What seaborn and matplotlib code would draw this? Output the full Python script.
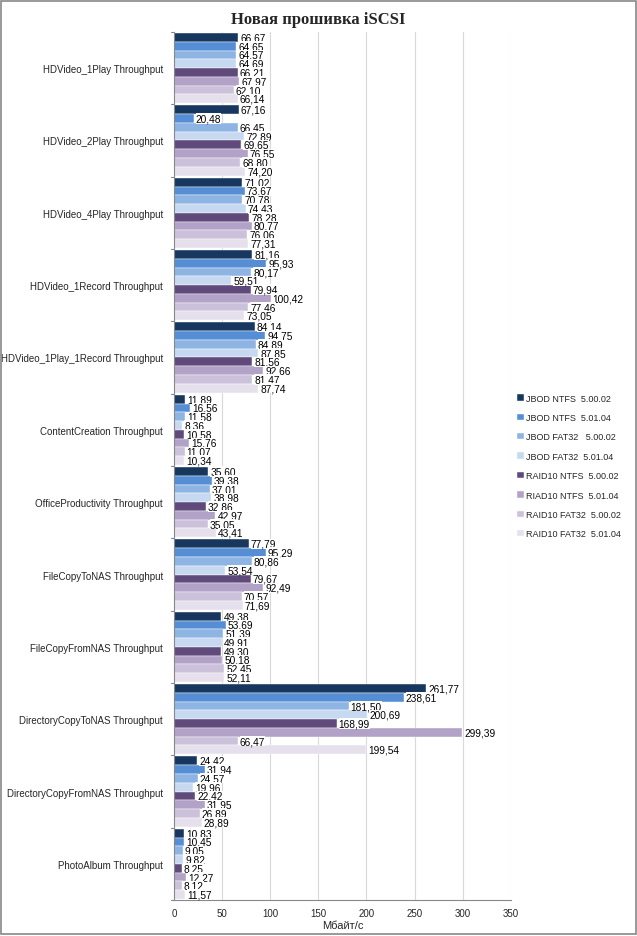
import matplotlib
matplotlib.use("Agg")
import matplotlib.pyplot as plt
import seaborn as sns
import pandas as pd
from matplotlib.patches import Rectangle

categories = [
    "HDVideo_1Play Throughput",
    "HDVideo_2Play Throughput",
    "HDVideo_4Play Throughput",
    "HDVideo_1Record Throughput",
    "HDVideo_1Play_1Record Throughput",
    "ContentCreation Throughput",
    "OfficeProductivity Throughput",
    "FileCopyToNAS Throughput",
    "FileCopyFromNAS Throughput",
    "DirectoryCopyToNAS Throughput",
    "DirectoryCopyFromNAS Throughput",
    "PhotoAlbum Throughput",
]

series = [
    "JBOD NTFS  5.00.02",
    "JBOD NTFS  5.01.04",
    "JBOD FAT32   5.00.02",
    "JBOD FAT32  5.01.04",
    "RAID10 NTFS  5.00.02",
    "RIAD10 NTFS  5.01.04",
    "RAID10 FAT32  5.00.02",
    "RAID10 FAT32  5.01.04",
]

jbod_ntfs_500 = [66.67, 67.16, 71.02, 81.16, 84.14, 11.89, 35.60, 77.79, 49.38, 261.77, 24.42, 10.83]
jbod_ntfs_501 = [64.65, 20.48, 73.67, 95.93, 94.75, 16.56, 39.38, 95.29, 53.69, 238.61, 31.94, 10.45]
jbod_fat_500 = [64.57, 66.45, 70.78, 80.17, 84.89, 11.58, 37.01, 80.86, 51.39, 181.50, 24.57, 9.05]
jbod_fat_501 = [64.69, 72.89, 74.43, 59.51, 87.85, 8.36, 38.98, 53.54, 49.91, 200.69, 19.96, 9.82]
raid_ntfs_500 = [66.21, 69.65, 78.28, 79.94, 81.56, 10.58, 32.86, 79.67, 49.30, 168.99, 22.42, 8.25]
raid_ntfs_501 = [67.97, 76.55, 80.77, 100.42, 92.66, 15.76, 42.97, 92.49, 50.18, 299.39, 31.95, 12.27]
raid_fat_500 = [62.10, 68.80, 76.06, 77.46, 81.47, 11.07, 35.05, 70.57, 52.45, 66.47, 26.89, 8.12]
raid_fat_501 = [66.14, 74.20, 77.31, 73.05, 87.74, 10.34, 43.41, 71.69, 52.11, 199.54, 28.89, 11.57]

all_values = [jbod_ntfs_500, jbod_ntfs_501, jbod_fat_500, jbod_fat_501,
              raid_ntfs_500, raid_ntfs_501, raid_fat_500, raid_fat_501]

colors = ["#17375E", "#558ED5", "#8EB4E3", "#C6D9F1",
          "#604A7B", "#B3A2C7", "#CCC1DA", "#E6E0EC"]

rows = []
for name, vals in zip(series, all_values):
    for cat, v in zip(categories, vals):
        rows.append({"cat": cat, "series": name, "value": v})
df = pd.DataFrame(rows)

sns.set_style("white")
plt.rcParams["font.family"] = ["Liberation Sans", "DejaVu Sans"]

fig = plt.figure(figsize=(6.37, 9.37), dpi=100)
ax = fig.add_axes([0.273, 0.0384, 0.529, 0.9264])

sns.barplot(data=df, y="cat", x="value", hue="series", orient="h",
            palette=colors, width=0.97, saturation=1, ax=ax,
            edgecolor="white", linewidth=0.3)

for cont in ax.containers:
    labels = [f"{b.get_width():.2f}".replace(".", ",") for b in cont]
    ax.bar_label(cont, labels=labels, padding=1.5, fontsize=7.3, color="black",
                 bbox=dict(facecolor="white", edgecolor="none", pad=0.1))

ax.set_xlim(0, 350)
ax.set_xticks(range(0, 351, 50))
ax.set_ylim(len(categories) - 0.5, -0.5)
ax.set_yticks(range(len(categories)))
ax.set_yticklabels(categories, fontsize=7)
ax.tick_params(axis="y", length=0, pad=8)
ax.tick_params(axis="x", labelsize=7, length=3, color="#888888", direction="out", pad=3)
ax.set_xlabel("Мбайт/с", fontsize=8, labelpad=1)
ax.set_ylabel("")
ax.grid(axis="x", color="#D9D9D9", linewidth=0.8)
ax.set_axisbelow(True)
for side in ["top", "right"]:
    ax.spines[side].set_visible(False)
for side in ["left", "bottom"]:
    ax.spines[side].set_color("#888888")
    ax.spines[side].set_linewidth(0.8)

# group boundary ticks on the left
for b in [i - 0.5 for i in range(len(categories) + 1)]:
    ax.plot([-3, 0], [b, b], color="#888888", lw=0.8, clip_on=False)

ax.legend(loc="center left", bbox_to_anchor=(1.0, 0.5), frameon=False,
          fontsize=6.5, handlelength=0.7, handleheight=0.7, handletextpad=0.3,
          labelspacing=1.15, borderaxespad=0.3)

fig.text(0.5, 0.979, "Новая прошивка iSCSI", ha="center", va="center",
         fontsize=12, fontweight="bold", family=["Liberation Serif", "DejaVu Serif"])

fig.patches.append(Rectangle((0.002, 0.002), 0.996, 0.996, transform=fig.transFigure,
                             fill=False, edgecolor="#888888", linewidth=1.2))

fig.savefig("out.png", dpi=100)
